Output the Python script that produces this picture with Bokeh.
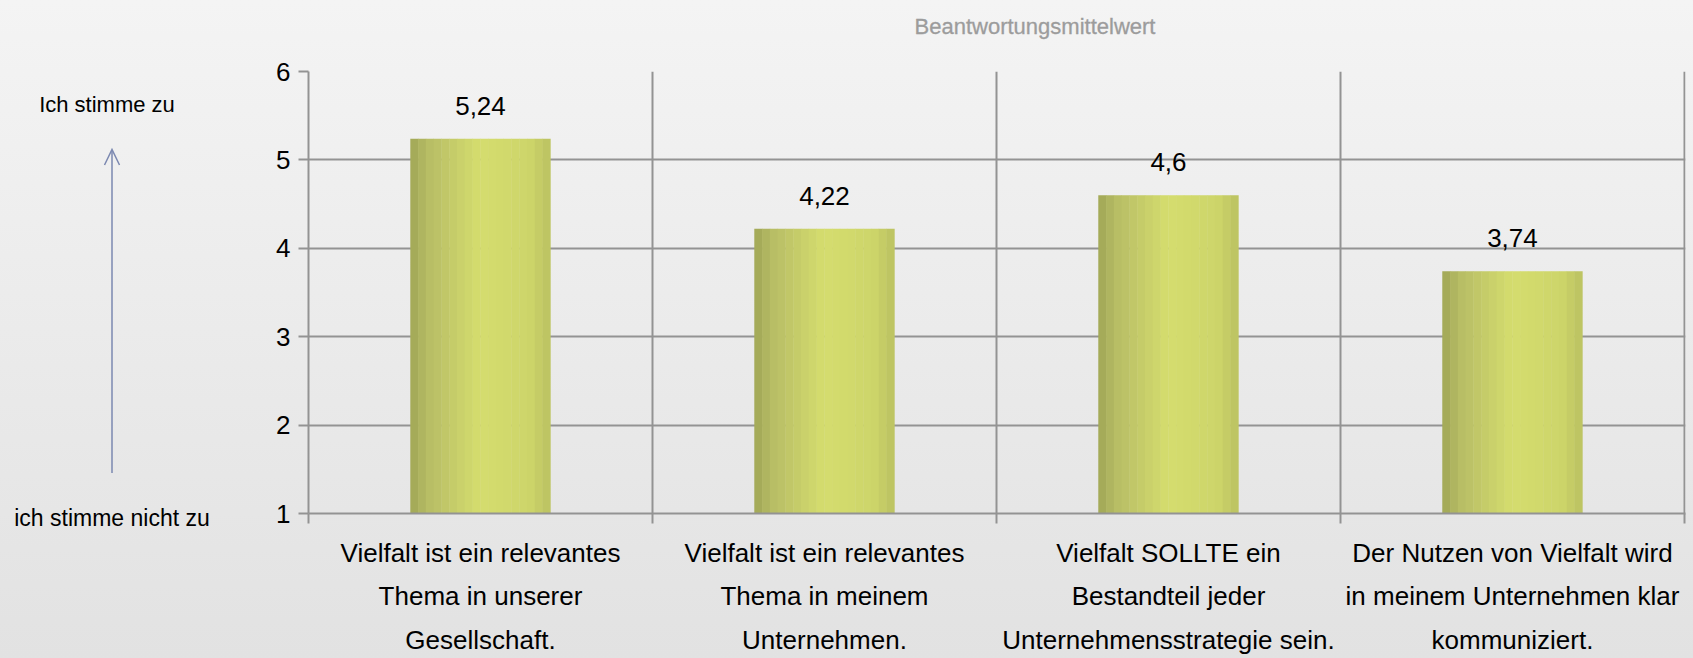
import numpy as np
from bokeh.plotting import figure
from bokeh.models import ColumnDataSource, Range1d, FixedTicker, LabelSet, Div
from bokeh.layouts import row, column
from bokeh.transform import dodge
from bokeh.core.properties import value
from bokeh.embed import file_html
from bokeh.resources import INLINE

# ---------------- data ----------------
categories = [
    "Vielfalt ist ein relevantes\nThema in unserer\nGesellschaft.",
    "Vielfalt ist ein relevantes\nThema in meinem\nUnternehmen.",
    "Vielfalt SOLLTE ein\nBestandteil jeder\nUnternehmensstrategie sein.",
    "Der Nutzen von Vielfalt wird\nin meinem Unternehmen klar\nkommuniziert.",
]
values = [5.24, 4.22, 4.6, 3.74]
value_labels = [f"{v:g}".replace(".", ",") for v in values]
y_ticks = [1, 2, 3, 4, 5, 6]
title_text = "Beantwortungsmittelwert"
scale_top = "Ich stimme zu"
scale_bottom = "ich stimme nicht zu"

# ---------------- layout / style ----------------
FONT = "Liberation Sans"
GRID = "#939393"
BG_CSS = "linear-gradient(to bottom, #f4f4f4, #e2e2e2)"
W, H = 1693, 658
TITLE_H = 45
DIV_W = 230
BODY_H = H - TITLE_H
B_LEFT, B_RIGHT, B_TOP, B_BOTTOM = 308 - DIV_W, 8, 71 - TITLE_H, 145
ARROW = "#7b88b0"
n = len(values)

# ---------------- title (html) ----------------
title_html = f"""
<div style="position:relative;width:{W}px;height:{TITLE_H}px;font-family:'{FONT}';">
  <div style="position:absolute;left:1035px;top:27px;transform:translate(-50%,-50%);
              font-size:22px;font-weight:normal;color:#9c9c9c;white-space:nowrap;
              -webkit-text-stroke:0.3px #9c9c9c;">{title_text}</div>
</div>
"""
title_div = Div(text=title_html, width=W, height=TITLE_H, margin=(0, 0, 0, 0))

# ---------------- left scale annotation (html) ----------------
t0 = TITLE_H
left_html = f"""
<div style="position:relative;width:{DIV_W}px;height:{BODY_H}px;font-family:'{FONT}';color:#000;">
  <div style="position:absolute;left:107px;top:{105 - t0}px;transform:translate(-50%,-50%);
              font-size:22px;white-space:nowrap;">{scale_top}</div>
  <div style="position:absolute;left:112px;top:{518 - t0}px;transform:translate(-50%,-50%);
              font-size:23px;white-space:nowrap;">{scale_bottom}</div>
  <svg style="position:absolute;left:0;top:0;" width="{DIV_W}" height="{BODY_H}">
    <line x1="112" y1="{473 - t0}" x2="112" y2="{150 - t0}" stroke="{ARROW}" stroke-width="1.5"/>
    <polyline points="104.5,{165 - t0} 112,{149.5 - t0} 119.5,{165 - t0}" fill="none"
              stroke="{ARROW}" stroke-width="1.5"/>
  </svg>
</div>
"""
left = Div(text=left_html, width=DIV_W, height=BODY_H, margin=(0, 0, 0, 0))

# ---------------- main chart ----------------
xs = list(range(n))
src = ColumnDataSource(dict(x=xs, top=values, lab=value_labels))

p = figure(width=W - DIV_W, height=BODY_H,
           x_range=Range1d(-0.5, n - 0.5 + 0.003), y_range=Range1d(y_ticks[0], y_ticks[-1]),
           min_border_left=B_LEFT, min_border_right=B_RIGHT,
           min_border_top=B_TOP, min_border_bottom=B_BOTTOM,
           toolbar_location=None, output_backend="svg", margin=(0, 0, 0, 0))
p.background_fill_alpha = 0
p.border_fill_alpha = 0
p.outline_line_color = None

# gradient bars built from vertical strips
bar_w = 0.407
N = 18
stops = [(0.0, (160, 166, 86)), (0.12, (182, 188, 101)), (0.5, (213, 221, 110)),
         (0.85, (205, 213, 106)), (1.0, (186, 193, 98))]

def grad(t):
    for (a0, c0), (a1, c1) in zip(stops[:-1], stops[1:]):
        if a0 <= t <= a1:
            f = (t - a0) / (a1 - a0)
            return "#%02x%02x%02x" % tuple(int(round(a + (b - a) * f)) for a, b in zip(c0, c1))
    return "#%02x%02x%02x" % stops[-1][1]

for i in range(N):
    off = -bar_w / 2 + (i + 0.5) * bar_w / N
    p.vbar(x=dodge("x", off), top="top", bottom=y_ticks[0], width=bar_w / N * 1.05,
           source=src, fill_color=grad((i + 0.5) / N), line_color=None)

p.add_layout(LabelSet(x="x", y="top", text="lab", source=src, y_offset=33,
                      text_align="center", text_baseline="middle",
                      text_font=value(FONT), text_font_size="26px", text_color="#000000"))

# axes
xa = p.xaxis[0]
xa.ticker = FixedTicker(ticks=xs, minor_ticks=list(np.arange(n + 1) - 0.5))
xa.major_label_overrides = {i: c for i, c in zip(xs, categories)}
xa.major_label_text_font = FONT
xa.major_label_text_font_size = "26px"
xa.major_label_text_color = "#000000"
xa.major_label_text_line_height = 1.45
xa.major_label_standoff = 14
xa.major_tick_out = 0
xa.major_tick_in = 0
xa.minor_tick_out = 10
xa.minor_tick_in = 0
xa.minor_tick_line_color = GRID
xa.minor_tick_line_width = 2
xa.axis_line_color = GRID
xa.axis_line_width = 2

ya = p.yaxis[0]
ya.ticker = FixedTicker(ticks=y_ticks)
ya.major_tick_out = 10
ya.major_tick_in = 0
ya.minor_tick_out = 0
ya.minor_tick_in = 0
ya.major_tick_line_color = GRID
ya.major_tick_line_width = 2
ya.axis_line_color = GRID
ya.axis_line_width = 2
ya.major_label_text_font = FONT
ya.major_label_text_font_size = "26px"
ya.major_label_text_color = "#000000"
ya.major_label_standoff = 8

p.xgrid.grid_line_color = None
p.xgrid.minor_grid_line_color = GRID
p.xgrid.minor_grid_line_width = 2
p.ygrid.grid_line_color = GRID
p.ygrid.grid_line_width = 2

layout = column(title_div, row(left, p, spacing=0), spacing=0,
                styles={"background-image": BG_CSS})
open("out.html", "w").write(file_html(layout, INLINE))
